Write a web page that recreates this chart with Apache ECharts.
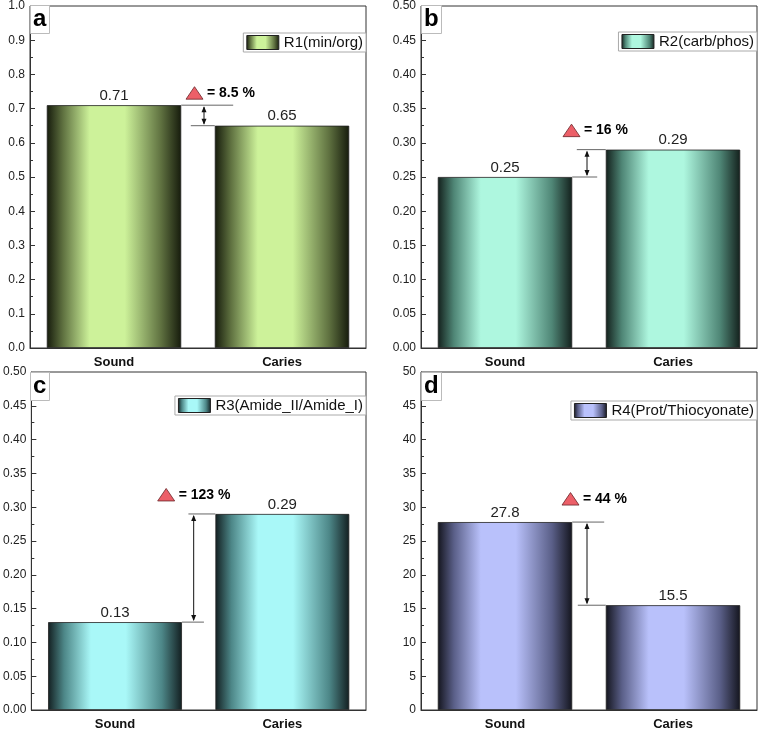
<!DOCTYPE html>
<html>
<head>
<meta charset="utf-8">
<script src="https://cdn.jsdelivr.net/npm/echarts@6/dist/echarts.min.js"></script>
<style>html,body{margin:0;padding:0;background:#fff}#c{width:761px;height:731px}</style>
</head>
<body>
<div id="c"></div>
<script>
// ---- data ----
const categories = ['Sound', 'Caries'];
const r1Values = [0.71, 0.65];
const r2Values = [0.25, 0.29];
const r3Values = [0.13, 0.29];
const r4Values = [27.8, 15.5];
const seriesNames = ['R1(min/org)', 'R2(carb/phos)', 'R3(Amide_II/Amide_I)', 'R4(Prot/Thiocyonate)'];
const deltaLabels = ['= 8.5 %', '= 16 %', '= 123 %', '= 44 %'];
const panelLetters = ['a', 'b', 'c', 'd'];
const yMaxes = [1.0, 0.5, 0.5, 50];
const yIntervals = [0.1, 0.05, 0.05, 5];
const yDecimals = [1, 2, 2, 0];

// ---- styling / layout ----
const allValues = [r1Values, r2Values, r3Values, r4Values];
const grids = [
  {left: 30, top: 5, width: 336, height: 343},
  {left: 421, top: 5, width: 336, height: 343},
  {left: 30, top: 372, width: 336, height: 342},
  {left: 421, top: 372, width: 336, height: 342}
];
const legendPos = [
  {right: 395, top: 33}, {right: 4, top: 32}, {right: 395, top: 396}, {right: 4, top: 401}
];
const palettes = [
  {dark: '#161b0c', mid: '#5f7140', light: '#cdf29a'},
  {dark: '#13201c', mid: '#4f8676', light: '#aef7df'},
  {dark: '#131f21', mid: '#4d8788', light: '#a9f8f8'},
  {dark: '#14151e', mid: '#5a5f88', light: '#b9c1fb'}
];
// annotation geometry (pixels)
const annStyle = [
  {topExt: 52, lowExt: 24, arrowDx: 6, triDx: -18, triDy: -12},
  {topExt: 29, lowExt: 25, arrowDx: -2, triDx: -24, triDy: -19},
  {topExt: 27, lowExt: 22, arrowDx: -5, triDx: -36, triDy: -19},
  {topExt: 32, lowExt: 28, arrowDx: -2, triDx: -25, triDy: -23}
];
const FONT = '"Liberation Sans", Arial, sans-serif';

function grad(p) {
  return new echarts.graphic.LinearGradient(0, 0, 1, 0, [
    {offset: 0, color: p.dark},
    {offset: 0.12, color: p.mid},
    {offset: 0.32, color: p.light},
    {offset: 0.58, color: p.light},
    {offset: 0.85, color: p.mid},
    {offset: 1, color: p.dark}
  ]);
}

function makeRender(idx) {
  const st = annStyle[idx];
  return function (params, api) {
    const vS = api.value(1), vC = api.value(2);
    const pS = api.coord([0, vS]);
    const pC = api.coord([1, vC]);
    const bw = api.size([1, 0])[0];
    const half = bw * 0.4;
    const sEdge = pS[0] + half;
    const cEdge = pC[0] - half;
    const mid = (sEdge + cEdge) / 2;
    const ax = mid + st.arrowDx;
    const sHigh = vS >= vC;
    const topY = sHigh ? pS[1] : pC[1];
    const lowY = sHigh ? pC[1] : pS[1];
    const topLine = sHigh ? [sEdge, sEdge + st.topExt] : [cEdge - st.topExt, cEdge];
    const lowLine = sHigh ? [cEdge - st.lowExt, cEdge] : [sEdge, sEdge + st.lowExt];
    const lineStyle = {stroke: '#666', lineWidth: 1};
    const ah = 6, aw = 2.5;
    const triL = ax + st.triDx;
    const triCy = topY + st.triDy;
    return {
      type: 'group',
      children: [
        {type: 'line', shape: {x1: topLine[0], y1: topY, x2: topLine[1], y2: topY}, style: lineStyle},
        {type: 'line', shape: {x1: lowLine[0], y1: lowY, x2: lowLine[1], y2: lowY}, style: lineStyle},
        {type: 'line', shape: {x1: ax, y1: topY + 2, x2: ax, y2: lowY - 2}, style: {stroke: '#111', lineWidth: 1}},
        {type: 'polygon', shape: {points: [[ax, topY + 1], [ax - aw, topY + 1 + ah], [ax + aw, topY + 1 + ah]]}, style: {fill: '#111'}},
        {type: 'polygon', shape: {points: [[ax, lowY - 1], [ax - aw, lowY - 1 - ah], [ax + aw, lowY - 1 - ah]]}, style: {fill: '#111'}},
        {type: 'polygon', shape: {points: [[triL, triCy + 6], [triL + 17, triCy + 6], [triL + 8.5, triCy - 6.5]]},
          style: {fill: '#ec5f68', stroke: '#6a2428', lineWidth: 0.8}},
        {type: 'text', x: triL + 21, y: triCy, style: {text: deltaLabels[idx], fill: '#000', font: 'bold 14px ' + FONT, textVerticalAlign: 'middle', textAlign: 'left'}}
      ]
    };
  };
}

const option = {
  animation: false,
  textStyle: {fontFamily: FONT},
  title: panelLetters.map((l, i) => ({
    text: l, left: grids[i].left, top: grids[i].top,
    padding: [2, 3, 3, 3], borderColor: '#bbb', borderWidth: 1, backgroundColor: '#fff',
    textStyle: {fontSize: 24, fontWeight: 'bold', color: '#000', fontFamily: FONT}
  })),
  legend: seriesNames.map((n, i) => ({
    data: [n], right: legendPos[i].right, top: legendPos[i].top,
    itemWidth: 32, itemHeight: 14, padding: [2, 3, 2, 3], itemGap: 0,
    borderColor: '#aaa', borderWidth: 1, backgroundColor: '#fff',
    selectedMode: false, icon: 'rect',
    itemStyle: {borderColor: '#222', borderWidth: 1},
    textStyle: {fontSize: 15, color: '#111', fontFamily: FONT}
  })),
  grid: grids.map(g => Object.assign({show: true, borderColor: '#333', borderWidth: 1, backgroundColor: 'transparent'}, g)),
  xAxis: grids.map((g, i) => ({
    type: 'category', gridIndex: i, data: categories,
    axisTick: {show: false},
    axisLine: {lineStyle: {color: '#333'}},
    axisLabel: {fontSize: 13, fontWeight: 'bold', color: '#111', margin: 8, fontFamily: FONT}
  })),
  yAxis: grids.map((g, i) => ({
    type: 'value', gridIndex: i, min: 0, max: yMaxes[i], interval: yIntervals[i],
    axisLine: {show: true, lineStyle: {color: '#333'}},
    axisTick: {show: true, inside: true, length: 5, lineStyle: {color: '#333'}},
    minorTick: {show: true, splitNumber: 2, length: 3, lineStyle: {color: '#333'}},
    splitLine: {show: false},
    axisLabel: {fontSize: 12, color: '#222', margin: 5, fontFamily: FONT,
      formatter: v => v.toFixed(yDecimals[i])}
  })),
  series: []
};

seriesNames.forEach((n, i) => {
  option.series.push({
    name: n, type: 'bar', xAxisIndex: i, yAxisIndex: i,
    data: allValues[i], barWidth: '80%',
    itemStyle: {color: grad(palettes[i]), borderColor: '#222', borderWidth: 0.8},
    label: {show: true, position: 'top', distance: 2, fontSize: 15, color: '#222', fontFamily: FONT}
  });
  option.series.push({
    name: 'ann' + i, type: 'custom', xAxisIndex: i, yAxisIndex: i,
    data: [[0, allValues[i][0], allValues[i][1]]],
    encode: {x: 0, y: [1, 2]},
    renderItem: makeRender(i), z: 5, silent: true
  });
});

const chart = echarts.init(document.getElementById('c'), null, {renderer: 'canvas'});
chart.setOption(option);
</script>
</body>
</html>
